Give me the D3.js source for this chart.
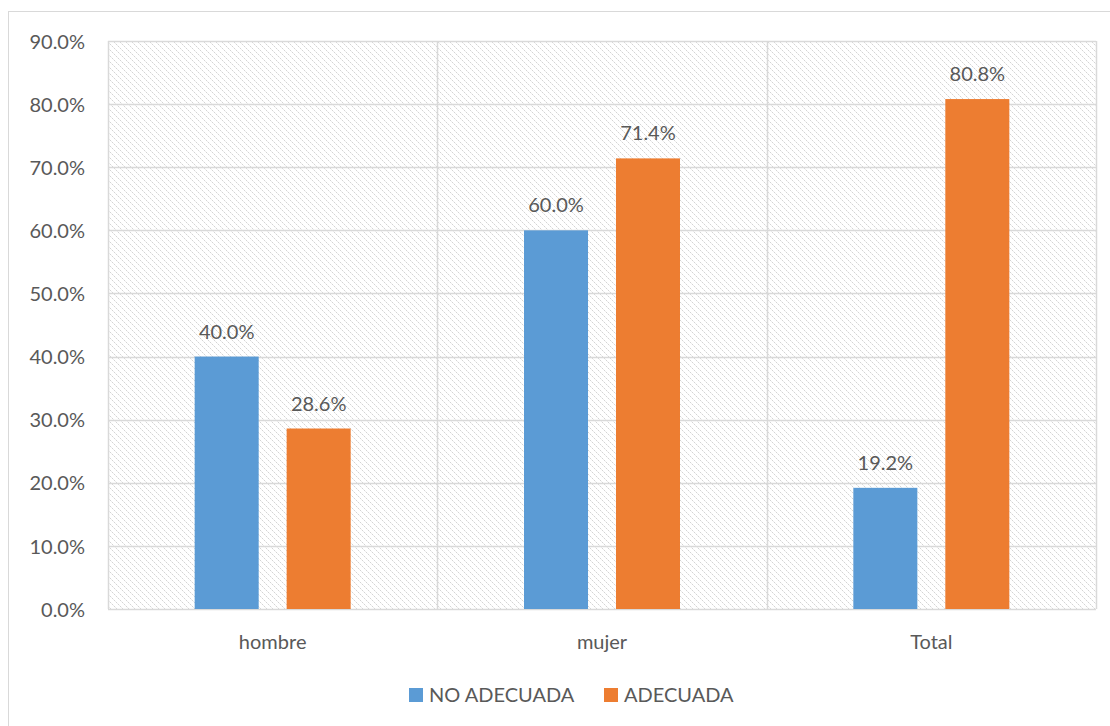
<!DOCTYPE html>
<html><head><meta charset="utf-8">
<script src="https://cdn.jsdelivr.net/npm/d3@7"></script>
<style>body{margin:0;background:#fff}svg{display:block}text{font-family:Lato,"Open Sans",sans-serif;fill:#595959}</style>
</head><body>
<svg id="c" width="1110" height="726"></svg>
<script>
const categories = ["hombre","mujer","Total"];
const series = ["NO ADECUADA","ADECUADA"];
const noAdecuada = [0.400,0.600,0.192];
const adecuada = [0.286,0.714,0.808];
const yTicks = [0,0.1,0.2,0.3,0.4,0.5,0.6,0.7,0.8,0.9];
const colors = ["#5B9BD5","#ED7D31"];

const FS=20;
const svg = d3.select("#c");
const L=108,R=1096,T=41,B=609;
// outer border
svg.append("rect").attr("x",8.5).attr("y",11.5).attr("width",1120).attr("height",740)
  .attr("fill","none").attr("stroke","#d9d9d9");
const defs=svg.append("defs");
const pat=defs.append("pattern").attr("id","hatch").attr("patternUnits","userSpaceOnUse")
  .attr("width",6).attr("height",6);
pat.selectAll("rect.a").data([0,2,4]).join("rect").attr("class","a")
  .attr("x",d=>d).attr("y",d=>d).attr("width",1.2).attr("height",1.2)
  .attr("fill","#d4d4d4").attr("shape-rendering","crispEdges");
pat.selectAll("rect.b").data([1,3,5]).join("rect").attr("class","b")
  .attr("x",d=>d).attr("y",d=>d).attr("width",1).attr("height",1)
  .attr("fill","#ececec").attr("shape-rendering","crispEdges");
svg.append("rect").attr("x",L).attr("y",T).attr("width",R-L).attr("height",B-T).attr("fill","url(#hatch)");

const y=d3.scaleLinear().domain([0,0.9]).range([B,T]);
const x=d3.scaleBand().domain(categories).range([L,R]).padding(0);
const bw=x.bandwidth();
const xi=d3.scaleBand().domain(series).range([bw/2-78,bw/2+78]).paddingInner(0.304);

// gridlines
svg.append("g").selectAll("line").data(yTicks).join("line")
  .attr("x1",L).attr("x2",R).attr("y1",d=>Math.round(y(d))+0.5).attr("y2",d=>Math.round(y(d))+0.5)
  .attr("stroke","#d9d9d9").attr("stroke-width",1.5);
const vlines=[L].concat(categories.map(c=>x(c)+bw));
svg.append("g").selectAll("line").data(vlines).join("line")
  .attr("x1",d=>Math.round(d)+0.5).attr("x2",d=>Math.round(d)+0.5).attr("y1",T).attr("y2",B)
  .attr("stroke","#d9d9d9").attr("stroke-width",1.5);

// y axis labels
const yAxis=d3.axisLeft(y).tickValues(yTicks).tickFormat(d3.format(".1%")).tickSize(0).tickPadding(23);
const ga=svg.append("g").attr("transform",`translate(${L},0)`).call(yAxis);
ga.select(".domain").remove();
ga.selectAll("text").attr("font-size",FS).style("font-family","Lato").attr("fill","#595959").attr("dy","0.36em");

// x axis labels
const xAxis=d3.axisBottom(x).tickSize(0).tickPadding(26);
const gx=svg.append("g").attr("transform",`translate(0,${B})`).call(xAxis);
gx.select(".domain").remove();
gx.selectAll("text").attr("font-size",FS).style("font-family","Lato").attr("fill","#595959");

const data=[noAdecuada,adecuada];
series.forEach((s,si)=>{
  const g=svg.append("g");
  g.selectAll("rect").data(categories).join("rect")
    .attr("x",c=>x(c)+xi(s)).attr("width",xi.bandwidth())
    .attr("y",(c,i)=>y(data[si][i])).attr("height",(c,i)=>B-y(data[si][i]))
    .attr("fill",colors[si]);
  g.selectAll("text").data(categories).join("text")
    .attr("x",c=>x(c)+xi(s)+xi.bandwidth()/2).attr("y",(c,i)=>y(data[si][i])-18)
    .attr("text-anchor","middle").attr("font-size",FS)
    .text((c,i)=>d3.format(".1%")(data[si][i]));
});

// legend
const legX=[409,604];
const lg=svg.append("g");
series.forEach((s,i)=>{
  lg.append("rect").attr("x",legX[i]).attr("y",688).attr("width",14).attr("height",14).attr("fill",colors[i]);
  lg.append("text").attr("x",legX[i]+20).attr("y",702).attr("font-size",FS).text(s);
});
</script>
</body></html>
